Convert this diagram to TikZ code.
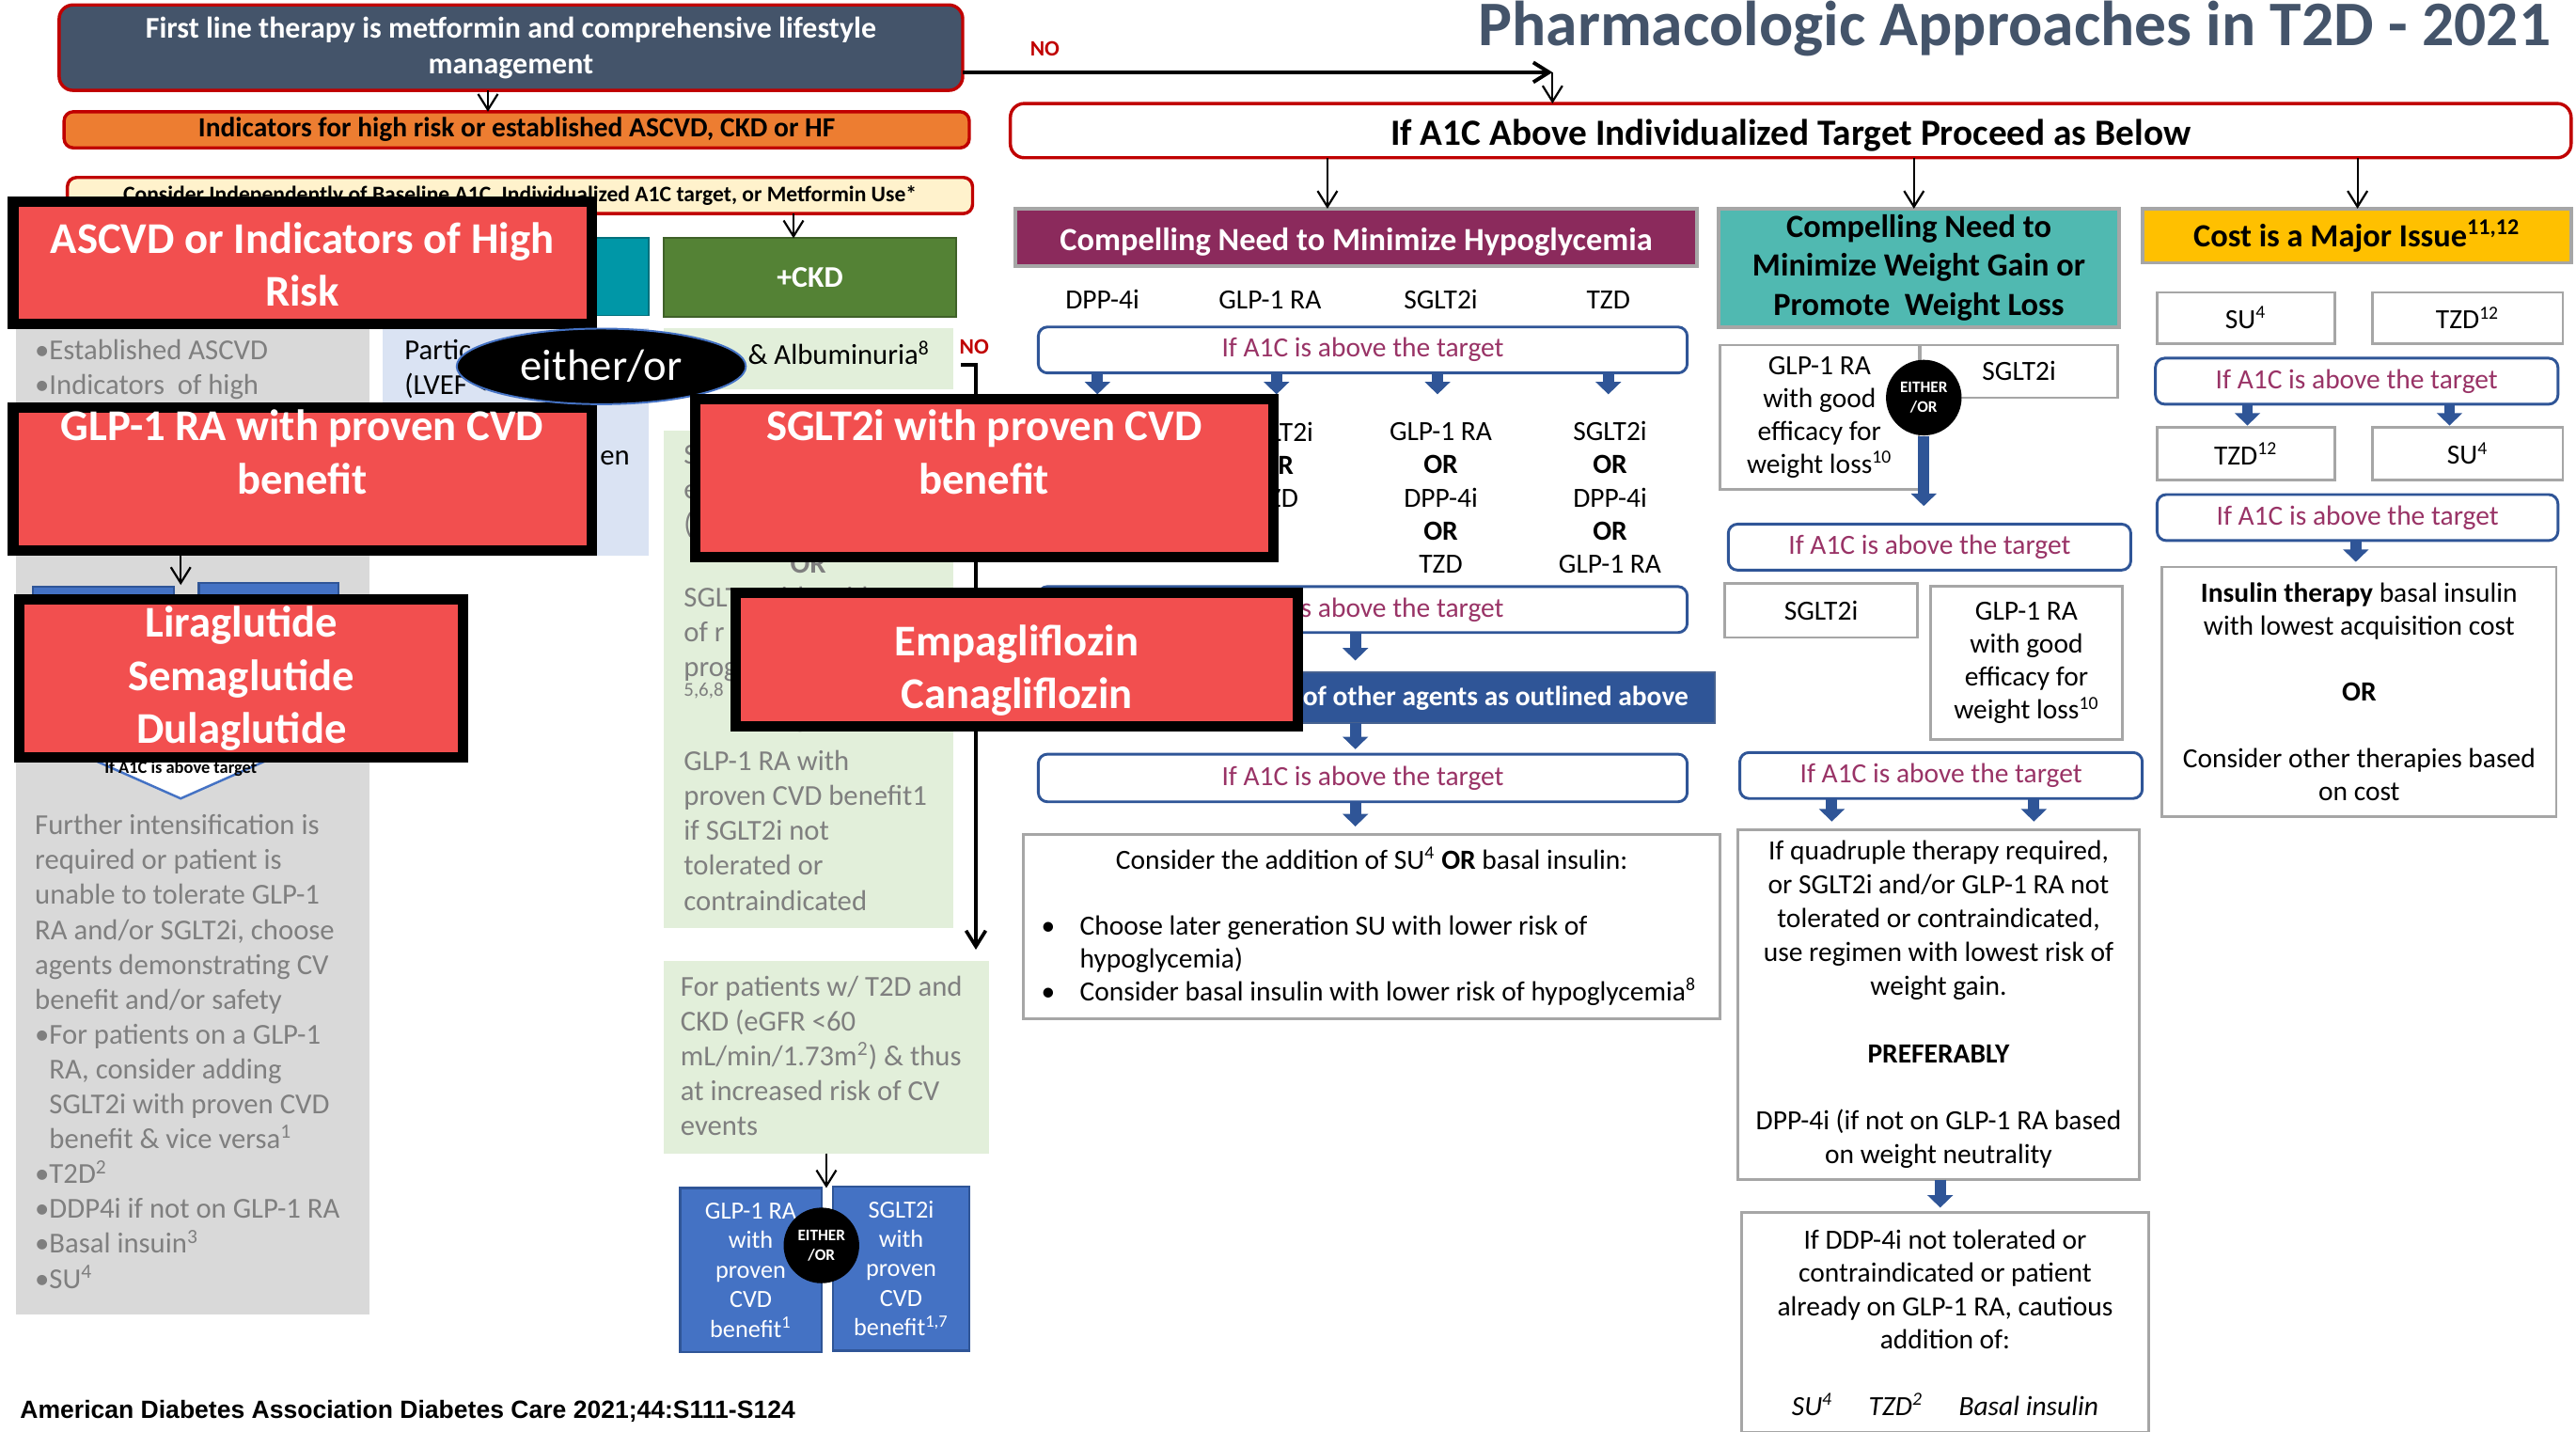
\documentclass[tikz,border=0pt]{standalone}
\usepackage{fontspec}
\setmainfont{Carlito}
\newfontfamily\arialf{Liberation Sans}
\usetikzlibrary{arrows.meta,shapes.geometric}
\definecolor{slate}{HTML}{44546A}
\definecolor{dred}{HTML}{C00000}
\definecolor{orng}{HTML}{ED7D31}
\definecolor{lyel}{HTML}{FFF2CC}
\definecolor{rbox}{HTML}{F24F4F}
\definecolor{gcol}{HTML}{D9D9D9}
\definecolor{gtxt}{HTML}{7F7F7F}
\definecolor{lblu}{HTML}{DAE3F3}
\definecolor{tealA}{HTML}{0097A7}
\definecolor{grn}{HTML}{548235}
\definecolor{lgrn}{HTML}{E2EFDA}
\definecolor{bbox}{HTML}{4472C4}
\definecolor{dblu}{HTML}{2F5597}
\definecolor{purp}{HTML}{8B2A5C}
\definecolor{ptxt}{HTML}{993366}
\definecolor{tealB}{HTML}{50B9B1}
\definecolor{gold}{HTML}{FFC000}
\definecolor{bord}{HTML}{A6A6A6}
\newcommand\fsz[2]{\fontsize{#1}{#2}\selectfont}
\newcommand\mybox[7]{\node[#6, minimum width={(#4-#2)*0.25mm}, minimum height={(#5-#3)*0.25mm}] (#1) at ({(#2+#4)/2},{(#3+#5)/2}) {#7};}
\tikzset{
  bs/.style={inner sep=0pt, outer sep=0pt, align=center},
  redbox/.style={bs, fill=rbox, draw=black, line width=4.5pt},
  redtxt/.style={bs, text=white, font=\bfseries\fsz{19}{23}},
  a1c/.style={bs, rounded corners=4pt, draw=dblu, line width=1.2pt, fill=white, text=ptxt, font=\fsz{12}{14.4}},
  wbox/.style={bs, draw=bord, line width=1.1pt, fill=white, font=\fsz{12}{14.3}},
  hdr/.style={bs, draw=bord, line width=1.5pt, font=\bfseries\fsz{14}{17}},
  blk/.style={draw=dblu, line width=1.7mm, -{Triangle[width=3.8mm,length=1.9mm]}},
  arr/.style={draw=black, line width=0.9pt, -{Straight Barb[length=2.4mm,width=3mm]}},
  gt/.style={inner sep=0pt, align=left, text=gtxt, font=\fsz{12.5}{15.1}},
  bt/.style={inner sep=0pt, align=left, font=\fsz{12.5}{15.1}},
  ct/.style={inner sep=0pt, align=center, font=\fsz{12}{14.4}},
  bluebox/.style={bs, fill=bbox, draw=dblu, line width=0.9pt, text=white, font=\fsz{10.7}{12.8}},
  eocirc/.style={circle, fill=black, inner sep=0pt, minimum size=11.5mm, text=white, align=center, font=\bfseries\fsz{7}{8.4}},
  notxt/.style={inner sep=0pt, text=dred, font=\bfseries\fsz{9.5}{11}},
}
\begin{document}
\begin{tikzpicture}[x=0.25mm,y=-0.25mm]
\useasboundingbox (0,0) rectangle (1568,871);
% title
\node[anchor=base east, inner sep=0pt, text=slate, font=\bfseries\fsz{27.5}{30}] (title) at (1553,28) {Pharmacologic Approaches in T2D - 2021};

% top left boxes
\mybox{A}{36}{3}{586}{55}{bs, rounded corners=6pt, fill=slate, draw=dred, line width=1.4pt, text=white, font=\bfseries\fsz{13}{15.6}}{First line therapy is metformin and comprehensive lifestyle\\management}
\mybox{B}{39}{68}{590}{90}{bs, rounded corners=4pt, fill=orng, draw=dred, line width=1.4pt, font=\bfseries\fsz{12}{14}}{Indicators for high risk or established ASCVD, CKD or HF}
\mybox{C}{41}{108}{592}{130}{bs, rounded corners=4pt, fill=lyel, draw=dred, line width=1.4pt, font=\bfseries\fsz{9.6}{11}}{Consider Independently of Baseline A1C, Individualized A1C target, or Metformin Use*}
\coordinate (xAB) at (297,0);
\draw[arr] (A.south -| xAB) -- (B.north -| xAB);

% big A1C box and NO arrow
\mybox{D}{615}{63}{1565}{96}{bs, rounded corners=6pt, fill=white, draw=dred, line width=1.4pt, font=\bfseries\fsz{16}{18}, text height=14pt, text depth=1pt}{If A1C Above Individualized Target Proceed as Below}
\coordinate (nA) at (945,44);
\draw[draw=black, line width=1.6pt, -{Straight Barb[length=2.4mm,width=3mm]}] (A.east |- nA) -- (nA);
\node[notxt] (no1) at (636,30) {NO};
\draw[arr] (nA) -- (D.north -| nA);

% left columns
\mybox{HF}{233}{145}{395}{192}{bs, fill=tealA, draw=tealA!75!black, line width=0.8pt}{}
\mybox{CKD}{404}{145}{582}{193}{bs, fill=grn, draw=grn!75!black, line width=0.8pt, text=white, font=\bfseries\fsz{13}{15}}{+CKD}
\coordinate (xCK) at (483,0);
\draw[arr] (C.south -| xCK) -- (CKD.north -| xCK);
\mybox{gcolumn}{10}{200}{225}{800}{bs, fill=gcol}{}
\mybox{lbcol}{233}{200}{395}{338}{bs, fill=lblu}{}
\mybox{gtop}{404}{200}{580}{237}{bs, fill=lgrn}{}
\mybox{glow}{404}{262}{580}{565}{bs, fill=lgrn}{}
\mybox{gb2}{404}{585}{602}{702}{bs, fill=lgrn}{}

% (multi-line nodes: base anchor = baseline of last line)
\node[gt, anchor=base west] (g1) at (21,240) {•Established ASCVD\\•Indicators\ \ of high};
\node[gt, anchor=base west] (g2) at (21,784) {Further intensification is\\required or patient is\\unable to tolerate GLP-1\\RA and/or SGLT2i, choose\\agents demonstrating CV\\benefit and/or safety\\•For patients on a GLP-1\\\phantom{•}RA, consider adding\\\phantom{•}SGLT2i with proven CVD\\\phantom{•}benefit \& vice versa\textsuperscript{1}\\•T2D\textsuperscript{2}\\•DDP4i if not on GLP-1 RA\\•Basal insuin\textsuperscript{3}\\•SU\textsuperscript{4}};

\node[bt, anchor=base west] (lbt1) at (246,240) {Partic\\(LVEF <};
\node[bt, anchor=base west] (lbt2) at (365,283) {en};
\node[bt, anchor=base west] (alb) at (455,222) {\& Albuminuria\textsuperscript{8}};
\node[gt, anchor=base west] (gl0) at (416,325) {S\\e\\(};
\node[gt, font=\bfseries\fsz{12.5}{15.1}] (gor1) at (492,343) {OR};
\node[gt, anchor=base west] (gl1) at (416,412) {SGLT2 with evidence\\of r\\prog};
\node[gt, anchor=base west, font=\fsz{8.5}{10}] (gl1b) at (416,424) {5,6,8};
\node[gt, font=\bfseries\fsz{12.5}{15.1}] (gor2) at (492,440) {OR};
\node[gt, anchor=base west] (gl2) at (416,554) {GLP-1 RA with\\proven CVD benefit1\\if SGLT2i not\\tolerated or\\contraindicated};
\node[gt, anchor=base west] (gb2t) at (414,691) {For patients w/ T2D and\\CKD (eGFR <60\\mL/min/1.73m\textsuperscript{2}) \& thus\\at increased risk of CV\\events};

% NO bracket
\coordinate (nos) at (585,222);
\coordinate (noe) at (594,578);
\draw[draw=black, line width=1.5pt, -{Straight Barb[length=2.4mm,width=3mm]}] (nos) -| (noe);
\node[notxt] (no2) at (593,211) {NO};

% blue pair bottom
\mybox{bp1}{414}{723}{500}{823}{bluebox}{GLP-1 RA\\with\\proven\\CVD\\benefit\textsuperscript{1}}
\mybox{bp2}{507}{722}{590}{822}{bluebox}{SGLT2i\\with\\proven\\CVD\\benefit\textsuperscript{1,7}}
\coordinate (xbp) at (503,0);
\draw[arr] (gb2.south -| xbp) -- (bp1.north -| xbp);
\node[eocirc] (eo1) at (500,758) {EITHER\\/OR};

% left blue boxes and chevron
\mybox{lb1}{20}{357}{106}{440}{bluebox}{}
\mybox{lb2}{121}{355}{206}{440}{bluebox}{}
\draw[fill=white, draw=bbox, line width=1pt] (40,430) -- (180,430) -- (180,455) -- (110,486) -- (40,455) -- cycle;
\node[inner sep=0pt, font=\bfseries\fsz{7.5}{9}] (chev) at (110,468) {If A1C is above target};

% hypoglycemia column
\mybox{P}{618}{127}{1033}{162}{hdr, fill=purp, text=white, text height=12pt, text depth=1pt}{Compelling Need to Minimize Hypoglycemia}
\coordinate (xP) at (808,0);
\draw[arr] (D.south -| xP) -- (P.north -| xP);
\node[ct, anchor=base] (h1) at (671,188) {DPP-4i};
\node[ct, anchor=base] (h2) at (773,188) {GLP-1 RA};
\node[ct, anchor=base] (h3) at (877,188) {SGLT2i};
\node[ct, anchor=base] (h4) at (979,188) {TZD};
\mybox{H1}{632}{199}{1027}{227}{a1c}{If A1C is above the target}
\coordinate (c1) at (668,240);
\coordinate (c2) at (777,240);
\coordinate (c3) at (875,240);
\coordinate (c4) at (979,240);
\draw[blk] (H1.south -| c1) -- (c1);
\draw[blk] (H1.south -| c2) -- (c2);
\draw[blk] (H1.south -| c3) -- (c3);
\draw[blk] (H1.south -| c4) -- (c4);
\node[ct, anchor=base] (col2) at (777,309) {SGLT2i\\\textbf{OR}\\TZD};
\node[ct, anchor=base] (col3) at (877,349) {GLP-1 RA\\\textbf{OR}\\DPP-4i\\\textbf{OR}\\TZD};
\node[ct, anchor=base] (col4) at (980,349) {SGLT2i\\\textbf{OR}\\DPP-4i\\\textbf{OR}\\GLP-1 RA};
\mybox{H2}{632}{357}{1027}{385}{a1c}{If A1C is above the target}
\mybox{DB}{632}{409}{1044}{440}{bs, fill=dblu, draw=dblu!70!gray, line width=0.8pt}{}
\node[anchor=east, inner sep=0pt, text=white, font=\bfseries\fsz{12}{14}] (dbt) at (1028,425) {of other agents as outlined above};
\mybox{H3}{632}{459}{1027}{488}{a1c}{If A1C is above the target}
\coordinate (b1) at (825,402);
\coordinate (b2) at (825,456);
\coordinate (b3) at (825,503);
\draw[blk] (H2.south -| b1) -- (b1);
\draw[blk] (DB.south -| b2) -- (b2);
\draw[blk] (H3.south -| b3) -- (b3);
\mybox{CB}{623}{508}{1047}{620}{wbox}{}
\node[ct, anchor=base] (cb0) at (835,529) {Consider the addition of SU\textsuperscript{4} \textbf{OR} basal insulin:};
\node[anchor=base west, inner sep=0pt, align=left, font=\fsz{12}{14.2}] (cb1) at (657,609) {Choose later generation SU with lower risk of\\hypoglycemia)\\Consider basal insulin with lower risk of hypoglycemia\textsuperscript{8}};
\node[ct, anchor=base] (cbb1) at (638,569) {•};
\node[ct, anchor=base] (cbb2) at (638,609) {•};

% weight column
\mybox{T}{1046}{127}{1290}{199}{hdr, fill=tealB}{Compelling Need to\\Minimize Weight Gain or\\Promote\ \ Weight Loss}
\coordinate (xT) at (1165,0);
\draw[arr] (D.south -| xT) -- (T.north -| xT);
\mybox{W1}{1047}{210}{1168}{298}{wbox}{GLP-1 RA\\with good\\efficacy for\\weight loss\textsuperscript{10}}
\mybox{W2}{1169}{210}{1289}{242}{wbox}{SGLT2i}
\node[eocirc] (eo2) at (1171,242) {EITHER\\/OR};
\mybox{W3}{1052}{319}{1297}{347}{a1c}{If A1C is above the target}
\coordinate (b4) at (1171,308);
\draw[blk] (eo2.south) -- (b4);
\mybox{W4}{1050}{355}{1167}{388}{wbox}{SGLT2i}
\mybox{W5}{1175}{357}{1292}{450}{wbox}{GLP-1 RA\\with good\\efficacy for\\weight loss\textsuperscript{10}}
\mybox{W6}{1059}{458}{1304}{486}{a1c}{If A1C is above the target}
\coordinate (b5) at (1115,500);
\coordinate (b6) at (1238,500);
\draw[blk] (W6.south -| b5) -- (b5);
\draw[blk] (W6.south -| b6) -- (b6);
\mybox{W7}{1058}{505}{1302}{718}{wbox, font=\fsz{12}{14.6}}{If quadruple therapy required,\\or SGLT2i and/or GLP-1 RA not\\tolerated or contraindicated,\\use regimen with lowest risk of\\weight gain.\\[14.6pt]\textbf{PREFERABLY}\\[14.6pt]DPP-4i (if not on GLP-1 RA based\\on weight neutrality}
\coordinate (b7) at (1181,735);
\draw[blk] (W7.south -| b7) -- (b7);
\mybox{W8}{1060}{738}{1308}{872}{wbox, font=\fsz{12}{14.4}}{If DDP-4i not tolerated or\\contraindicated or patient\\already on GLP-1 RA, cautious\\addition of:\\[14.4pt]\textit{SU\textsuperscript{4}}\hspace{1.3em}\textit{TZD\textsuperscript{2}}\hspace{1.3em}\textit{Basal insulin}}

% cost column
\mybox{G}{1304}{127}{1565}{160}{hdr, fill=gold}{Cost is a Major Issue\textsuperscript{11,12}}
\coordinate (xG) at (1435,0);
\draw[arr] (D.south -| xG) -- (G.north -| xG);
\mybox{K1}{1313}{178}{1421}{209}{wbox}{SU\textsuperscript{4}}
\mybox{K2}{1444}{178}{1560}{209}{wbox}{TZD\textsuperscript{12}}
\mybox{K3}{1312}{218}{1557}{246}{a1c}{If A1C is above the target}
\coordinate (b8) at (1368,259);
\coordinate (b9) at (1491,259);
\draw[blk] (K3.south -| b8) -- (b8);
\draw[blk] (K3.south -| b9) -- (b9);
\mybox{K4}{1313}{260}{1421}{292}{wbox}{TZD\textsuperscript{12}}
\mybox{K5}{1444}{260}{1560}{292}{wbox}{SU\textsuperscript{4}}
\mybox{K6}{1313}{301}{1557}{329}{a1c}{If A1C is above the target}
\coordinate (b10) at (1434,342);
\draw[blk] (K6.south -| b10) -- (b10);
\mybox{K7}{1316}{345}{1556}{497}{wbox, font=\fsz{12}{14.3}}{\textbf{Insulin therapy} basal insulin\\with lowest acquisition cost\\[14.3pt]\textbf{OR}\\[14.3pt]Consider other therapies based\\on cost}

% footer
\node[anchor=base west, inner sep=0pt, font=\arialf\bfseries\fsz{10.8}{12}] (foot) at (12,863) {American Diabetes Association Diabetes Care 2021;44:S111-S124};

% red overlay boxes
\mybox{ASC}{8}{123}{360}{197}{redbox}{}
\node[redtxt] (ASCt) at (184,161) {ASCVD or Indicators of High\\Risk};
\mybox{GLP}{8}{248}{360}{335}{redbox}{}
\node[redtxt] (GLPt) at (184,275) {GLP-1 RA with proven CVD\\benefit};
\coordinate (xgl) at (110,356);
\draw[arr] (GLP.south -| xgl) -- (xgl);
\mybox{LIR}{12}{365}{282}{461}{redbox}{}
\node[redtxt] (LIRt) at (147,413) {Liraglutide\\Semaglutide\\Dulaglutide};
\node[ellipse, fill=black, draw=bbox, line width=0.8pt, minimum width=44mm, minimum height=11.5mm, inner sep=0pt, text=white, font=\fsz{19}{21}] (eo) at (366,223) {either/or};
\mybox{SGL}{423}{243}{775}{339}{redbox}{}
\node[redtxt] (SGLt) at (599,275) {SGLT2i with proven CVD\\benefit};
\mybox{EMP}{448}{361}{790}{442}{redbox}{}
\node[redtxt] (EMPt) at (619,408) {Empagliflozin\\Canagliflozin};
\end{tikzpicture}
\end{document}
